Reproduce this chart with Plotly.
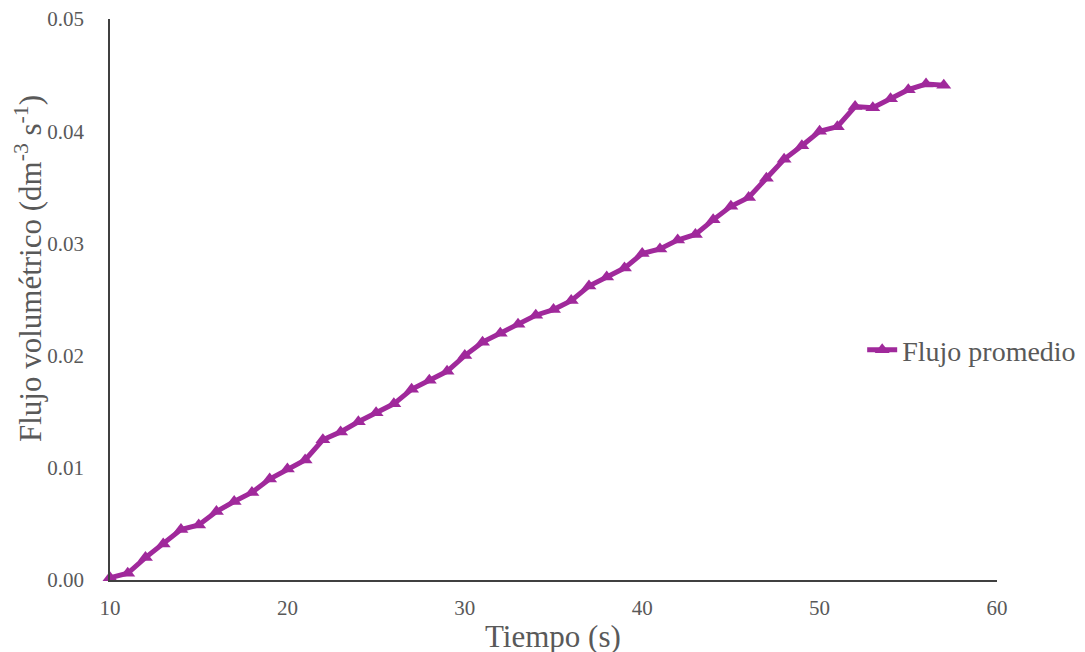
import plotly.graph_objects as go

tiempo = list(range(10, 58))
flujo = [0.0002, 0.0006, 0.0020, 0.0032, 0.0045, 0.0049, 0.0061, 0.0070, 0.0078, 0.0090,
         0.0099, 0.0107, 0.0125, 0.0132, 0.0141, 0.0149, 0.0157, 0.0170, 0.0178, 0.0186,
         0.0200, 0.0212, 0.0220, 0.0228, 0.0236, 0.0241, 0.0249, 0.0262, 0.0270, 0.0278,
         0.0291, 0.0295, 0.0303, 0.0308, 0.0321, 0.0333, 0.0341, 0.0358, 0.0375, 0.0387,
         0.0400, 0.0404, 0.0422, 0.0421, 0.0429, 0.0437, 0.0442, 0.0441]
series_name = "Flujo promedio"
x_ticks = [10, 20, 30, 40, 50, 60]
y_ticks = [0.00, 0.01, 0.02, 0.03, 0.04, 0.05]
x_title = "Tiempo (s)"
y_title = "Flujo volumétrico (dm<sup>-3</sup> s<sup>-1</sup>)"

color = "#A0299B"
font_family = "Liberation Serif"
gray = "#595959"

fig = go.Figure()
fig.add_trace(go.Scatter(
    x=tiempo, y=flujo, mode="lines+markers", name=series_name,
    line=dict(color=color, width=5),
    marker=dict(symbol="triangle-up", size=13, color=color),
    cliponaxis=False,
))

fig.add_annotation(
    text=y_title, xref="paper", yref="paper", x=-0.092, y=0.555,
    xanchor="center", yanchor="middle", textangle=-90, showarrow=False,
    font=dict(size=31, color=gray, family=font_family),
)
fig.add_annotation(
    text=x_title, xref="paper", yref="paper", x=0.499, y=-0.1,
    xanchor="center", yanchor="middle", showarrow=False,
    font=dict(size=31, color=gray, family=font_family),
)

fig.update_layout(
    width=1085, height=652,
    margin=dict(l=102, r=96, t=11, b=80),
    paper_bgcolor="white", plot_bgcolor="white",
    font=dict(family=font_family, color=gray, size=20),
    showlegend=True,
    legend=dict(x=0.848, y=0.41, xanchor="left", yanchor="middle",
                font=dict(size=28, color=gray, family=font_family),
                bgcolor="rgba(0,0,0,0)", itemwidth=30),
    xaxis=dict(range=[10, 60], tickvals=x_ticks, showgrid=False, zeroline=False,
               showline=True, linecolor="#404040", linewidth=1.5, automargin=False,
               ticks="", ticklabelstandoff=8, ticklabeloverflow="allow",
               tickfont=dict(size=21, color=gray, family=font_family)),
    yaxis=dict(range=[0, 0.05], tickvals=y_ticks, tickformat=".2f", showgrid=False,
               zeroline=False, showline=True, linecolor="#404040", linewidth=1.5,
               automargin=False,
               ticks="", ticklabelstandoff=20, ticklabeloverflow="allow",
               tickfont=dict(size=21, color=gray, family=font_family)),
)

fig.write_html("out.html")
